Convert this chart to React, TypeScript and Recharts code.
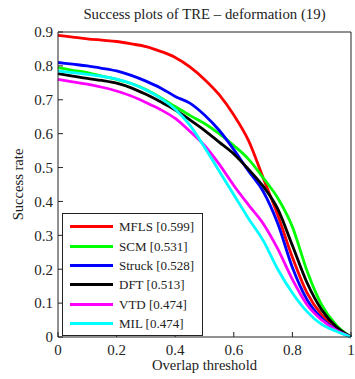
import { LineChart, Line, XAxis, YAxis, Legend, Label } from 'recharts'

const thresholds = [0, 0.05, 0.1, 0.15, 0.2, 0.25, 0.3, 0.35, 0.4, 0.45, 0.5, 0.55, 0.6, 0.65, 0.7, 0.75, 0.8, 0.85, 0.9, 0.95, 1]

const mfls = [0.89, 0.885, 0.88, 0.876, 0.872, 0.865, 0.857, 0.843, 0.825, 0.797, 0.76, 0.715, 0.655, 0.58, 0.47, 0.36, 0.235, 0.13, 0.065, 0.025, 0]
const scm = [0.795, 0.787, 0.78, 0.77, 0.76, 0.748, 0.73, 0.706, 0.68, 0.654, 0.63, 0.6, 0.565, 0.525, 0.47, 0.41, 0.325, 0.195, 0.095, 0.035, 0]
const struck = [0.81, 0.805, 0.8, 0.793, 0.785, 0.772, 0.755, 0.735, 0.71, 0.69, 0.655, 0.61, 0.553, 0.49, 0.43, 0.335, 0.205, 0.11, 0.055, 0.022, 0]
const dft = [0.777, 0.77, 0.763, 0.757, 0.749, 0.735, 0.716, 0.694, 0.67, 0.641, 0.61, 0.575, 0.54, 0.495, 0.445, 0.378, 0.27, 0.16, 0.08, 0.03, 0]
const vtd = [0.76, 0.753, 0.746, 0.737, 0.726, 0.711, 0.692, 0.671, 0.645, 0.607, 0.565, 0.51, 0.447, 0.39, 0.335, 0.26, 0.17, 0.095, 0.05, 0.02, 0]
const mil = [0.785, 0.78, 0.775, 0.769, 0.761, 0.748, 0.729, 0.705, 0.672, 0.625, 0.56, 0.49, 0.42, 0.35, 0.285, 0.2, 0.13, 0.075, 0.037, 0.017, 0]

const trackers = ['MFLS', 'SCM', 'Struck', 'DFT', 'VTD', 'MIL']
const scores = ['0.599', '0.531', '0.528', '0.513', '0.474', '0.474']
const colors = ['#ff0000', '#00ff00', '#0000ff', '#000000', '#ff00ff', '#00ffff']
const series = [mfls, scm, struck, dft, vtd, mil]

const xTicks = [0, 0.2, 0.4, 0.6, 0.8, 1]
const yTicks = [0, 0.1, 0.2, 0.3, 0.4, 0.5, 0.6, 0.7, 0.8, 0.9]

const data = thresholds.map((x, i) => {
  const row: Record<string, number> = { x }
  trackers.forEach((t, k) => { row[t] = series[k][i] })
  return row
})

const FONT = '"Liberation Serif", "DejaVu Serif", serif'
const INK = '#222'
const tickStyle = { fill: INK, fontSize: 15, fontFamily: FONT }

function LegendBox({ payload }: any) {
  const items = [...(payload ?? [])].sort(
    (a: any, b: any) => trackers.indexOf(a.dataKey) - trackers.indexOf(b.dataKey)
  )
  return (
    <div style={{ width: 139, background: '#fff', border: `1px solid ${INK}`, padding: '3px 0 2px' }}>
      {items.map((e: any) => (
        <div key={e.value} style={{ display: 'flex', alignItems: 'center', height: 19.4 }}>
          <span style={{ display: 'inline-block', width: 43, height: 3, marginLeft: 7, background: e.color }} />
          <span style={{ marginLeft: 6, fontSize: 13, fontFamily: FONT, color: INK, lineHeight: 1 }}>{e.value}</span>
        </div>
      ))}
    </div>
  )
}

export default function App() {
  return (
    <div style={{ position: 'absolute', left: 0, top: 0, width: 355, height: 379 }}>
      <div style={{ position: 'absolute', left: 58, width: 293, top: 5, textAlign: 'center',
        fontSize: 14.8, fontFamily: FONT, color: INK, lineHeight: '18px', zIndex: 1 }}>
        Success plots of TRE – deformation (19)
      </div>
      <LineChart width={355} height={379} data={data} margin={{ top: 32, right: 4, bottom: 8, left: 0 }}>
        <XAxis xAxisId="top" orientation="top" mirror dataKey="x" type="number" domain={[0, 1]} ticks={xTicks}
          height={20} tick={false} tickSize={5} stroke={INK} />
        <XAxis xAxisId="b" dataKey="x" type="number" domain={[0, 1]} ticks={xTicks} height={34}
          tickSize={-5} tickMargin={12} stroke={INK} tick={tickStyle}>
          <Label value="Overlap threshold" position="insideBottom" offset={1}
            style={{ fill: INK, fontSize: 14.6, fontFamily: FONT }} />
        </XAxis>
        <YAxis yAxisId="l" type="number" domain={[0, 0.9]} ticks={yTicks} width={58}
          tickSize={-5} tickMargin={10} stroke={INK} tick={tickStyle}>
          <Label value="Success rate" position="insideLeft" angle={-90} offset={18}
            style={{ fill: INK, fontSize: 14.6, fontFamily: FONT, textAnchor: 'middle' }} />
        </YAxis>
        <YAxis yAxisId="r" orientation="right" mirror type="number" domain={[0, 0.9]} ticks={yTicks} width={20}
          tick={false} tickSize={5} stroke={INK} />
        {trackers.map((t, k) => (
          <Line key={t} xAxisId="b" yAxisId="l" type="monotone" dataKey={t} name={`${t} [${scores[k]}]`}
            stroke={colors[k]} strokeWidth={2.8} dot={false} isAnimationActive={false} />
        ))}
        <Legend layout="horizontal" verticalAlign="middle" align="center" content={LegendBox}
          wrapperStyle={{ left: 62, top: 213, width: 141 }} />
      </LineChart>
    </div>
  )
}
